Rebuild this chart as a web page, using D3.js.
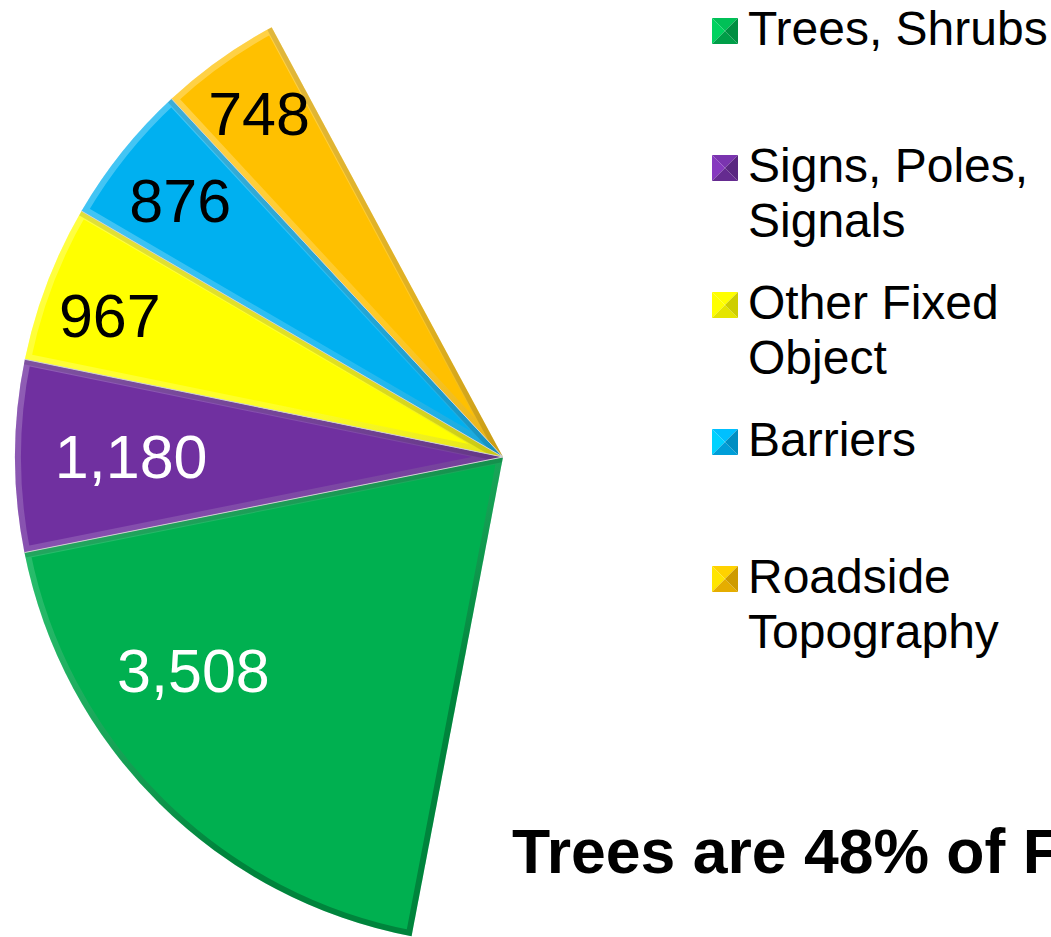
<!DOCTYPE html>
<html>
<head>
<meta charset="utf-8">
<script src="https://cdn.jsdelivr.net/npm/d3@7/dist/d3.min.js"></script>
<style>
  html, body { margin: 0; padding: 0; background: #fff; overflow: hidden; }
  svg { display: block; font-family: Arial, "Liberation Sans", sans-serif; }
</style>
</head>
<body>
<svg id="chart" width="1051" height="937"></svg>
<script>
// ---- data ----
const categories = ["Trees, Shrubs", "Signs, Poles, Signals", "Other Fixed Object", "Barriers", "Roadside Topography"];
const values = [3508, 1180, 967, 876, 748];
const valueLabels = ["3,508", "1,180", "967", "876", "748"];
const colors = ["#00B050", "#7030A0", "#FFFF00", "#00B0F0", "#FFC000"];
const labelColors = ["#ffffff", "#ffffff", "#000000", "#000000", "#000000"];
const title = "Trees are 48% of Fixed Object Fatalities";

// ---- layout ----
const W = 1051, H = 937;
const cx = 503, cy = 457, R = 488;
const deg = Math.PI / 180;
const startA = 190.8 * deg, endA = 331.7 * deg;
// label placement: fraction of slice span, fraction of radius
const labelFrac = [0.658, 0.5, 0.447, 0.49, 0.513];
const labelRad = [0.77, 0.762, 0.857, 0.846, 0.864];

const svg = d3.select("#chart");
const defs = svg.append("defs");

const pie = d3.pie().sort(null).value(d => d).startAngle(startA).endAngle(endA);
const arcs = pie(values);
const arc = d3.arc().innerRadius(0).outerRadius(R);

const g = svg.append("g").attr("transform", `translate(${cx},${cy})`);

// bevel gradient (light from upper-left, shade to lower-right)
const grad = defs.append("linearGradient").attr("id", "bevel")
  .attr("gradientUnits", "userSpaceOnUse")
  .attr("x1", -R).attr("y1", -R).attr("x2", 0).attr("y2", R * 0.4);
grad.append("stop").attr("offset", "0%").attr("stop-color", "#fff").attr("stop-opacity", 0.35);
grad.append("stop").attr("offset", "60%").attr("stop-color", "#fff").attr("stop-opacity", 0.15);
grad.append("stop").attr("offset", "100%").attr("stop-color", "#000").attr("stop-opacity", 0.25);

arcs.forEach((a, i) => {
  const clipId = "clip" + i;
  defs.append("clipPath").attr("id", clipId)
    .append("path").attr("d", arc(a));
  g.append("path").attr("d", arc(a)).attr("fill", colors[i]);
  // bevel edges
  g.append("path").attr("d", arc(a))
    .attr("fill", "none")
    .attr("stroke", "url(#bevel)")
    .attr("stroke-width", 12)
    .attr("stroke-linejoin", "round")
    .attr("clip-path", `url(#${clipId})`);
  // darker inner shade on the clockwise (end) edge
  const ex = Math.sin(a.endAngle) * R, ey = -Math.cos(a.endAngle) * R;
  g.append("line").attr("x1", 0).attr("y1", 0).attr("x2", ex).attr("y2", ey)
    .attr("stroke", "#000").attr("stroke-opacity", 0.12).attr("stroke-width", 10)
    .attr("clip-path", `url(#${clipId})`);
});
// thin separators along radial edges
arcs.forEach((a, i) => {
  const ex = Math.sin(a.startAngle) * R, ey = -Math.cos(a.startAngle) * R;
  if (i > 0) {
    g.append("line").attr("x1", 0).attr("y1", 0).attr("x2", ex).attr("y2", ey)
      .attr("stroke", "#d0d0d0").attr("stroke-width", 1);
  }
});

// value labels
arcs.forEach((a, i) => {
  const ang = a.startAngle + (a.endAngle - a.startAngle) * labelFrac[i];
  const r = R * labelRad[i];
  const x = Math.sin(ang) * r, y = -Math.cos(ang) * r;
  g.append("text")
    .attr("x", x).attr("y", y)
    .attr("dy", "0.36em")
    .attr("text-anchor", "middle")
    .attr("font-size", 61)
    .attr("fill", labelColors[i])
    .text(valueLabels[i]);
});

// legend
const legX = 712, legTop = 18, legStep = 137, mk = 26, lineH = 55, maxW = 305;
function shade(c, k) { return d3.color(c)[k > 0 ? "brighter" : "darker"](Math.abs(k)).formatHex(); }
categories.forEach((name, i) => {
  const y0 = legTop + i * legStep;
  const lg = svg.append("g").attr("transform", `translate(${legX},${y0})`);
  const c = colors[i];
  const s = mk, m = s / 2;
  // pyramid-style bevelled marker
  lg.append("polygon").attr("points", `0,0 ${s},0 ${m},${m}`).attr("fill", shade(c, 0.25));
  lg.append("polygon").attr("points", `0,0 0,${s} ${m},${m}`).attr("fill", shade(c, 0.5));
  lg.append("polygon").attr("points", `0,${s} ${s},${s} ${m},${m}`).attr("fill", shade(c, -0.3));
  lg.append("polygon").attr("points", `${s},0 ${s},${s} ${m},${m}`).attr("fill", shade(c, -0.6));

  const t = lg.append("text").attr("x", 36).attr("y", 27).attr("font-size", 48).attr("fill", "#000");
  // wrap
  const words = name.split(" ");
  let line = [], lineNo = 0;
  let tsp = t.append("tspan").attr("x", 36).attr("y", 27);
  words.forEach(w => {
    line.push(w);
    tsp.text(line.join(" "));
    if (tsp.node().getComputedTextLength() > maxW && line.length > 1) {
      line.pop();
      tsp.text(line.join(" "));
      line = [w];
      lineNo++;
      tsp = t.append("tspan").attr("x", 36).attr("y", 27 + lineNo * lineH).text(w);
    }
  });
});

// title
svg.append("text")
  .attr("x", 512).attr("y", 873)
  .attr("font-size", 62.5).attr("font-weight", "bold").attr("fill", "#000")
  .text(title);
</script>
</body>
</html>
